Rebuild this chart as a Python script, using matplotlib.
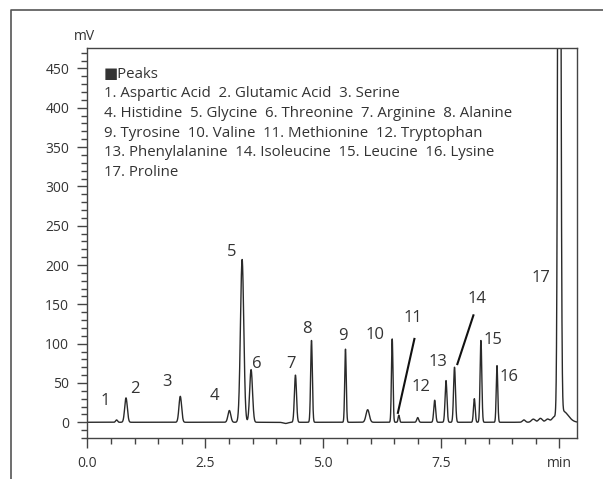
import numpy as np
import matplotlib
matplotlib.use("Agg")
import matplotlib.pyplot as plt
from matplotlib.ticker import MultipleLocator, FixedLocator, FixedFormatter
from matplotlib.lines import Line2D

plt.rcParams['font.family'] = ['Open Sans', 'DejaVu Sans']

# Peak table (retention time [min], height [mV], width sigma [min])
peak_times   = [0.62, 0.82, 1.97, 3.01, 3.28, 3.47, 4.20, 4.41, 4.75, 5.47, 5.94, 6.46, 6.60, 7.00, 7.36, 7.60, 7.78, 8.20, 8.34, 8.68, 9.25, 9.45, 9.60, 9.75, 9.88, 10.00, 10.08]
peak_heights = [3, 31, 33, 15, 207, 67, -1.5, 60, 104, 93, 16, 106, 9, 6, 28, 53, 70, 30, 104, 72, 3, 4, 5, 4, 4, 1500, 14]
peak_widths  = [0.02, 0.028, 0.028, 0.03, 0.035, 0.03, 0.05, 0.022, 0.018, 0.016, 0.035, 0.016, 0.015, 0.02, 0.02, 0.02, 0.02, 0.018, 0.018, 0.016, 0.03, 0.04, 0.04, 0.04, 0.04, 0.025, 0.11]

# Peak labels (number, label time, label height)
label_names = ['1', '2', '3', '4', '5', '6', '7', '8', '9', '10', '11', '12', '13', '14', '15', '16', '17']
label_x = [0.38, 1.00, 1.68, 2.69, 3.05, 3.60, 4.32, 4.66, 5.41, 6.10, 6.89, 7.06, 7.42, 8.25, 8.59, 8.93, 9.61]
label_y = [27, 42, 51, 34, 217, 74, 74, 119, 110, 111, 133, 45, 77, 157, 105, 58, 184]

# Leader lines (from, to)
leader_11 = [(6.93, 106), (6.58, 12)]
leader_14 = [(8.18, 136), (7.84, 74)]

legend_lines = [
    "\u25a0Peaks",
    "1. Aspartic Acid  2. Glutamic Acid  3. Serine",
    "4. Histidine  5. Glycine  6. Threonine  7. Arginine  8. Alanine",
    "9. Tyrosine  10. Valine  11. Methionine  12. Tryptophan",
    "13. Phenylalanine  14. Isoleucine  15. Leucine  16. Lysine",
    "17. Proline",
]

xticks = [0.0, 2.5, 5.0, 7.5, 10.0]
xticklabels = ['0.0', '2.5', '5.0', '7.5', 'min']
yticks = [0, 50, 100, 150, 200, 250, 300, 350, 400, 450]

t = np.linspace(0, 10.4, 6000)
signal = np.zeros_like(t)
for tr, h, w in zip(peak_times, peak_heights, peak_widths):
    signal += h * np.exp(-0.5 * ((t - tr) / w) ** 2)

W, H = 603, 479
fig = plt.figure(figsize=(W / 100, H / 100), dpi=100)
ax = fig.add_axes([87.3 / W, 1 - 438 / H, (577 - 87.3) / W, (438 - 48) / H])

ax.plot(t, signal, color='#2a2a2a', lw=1.0)
ax.set_xlim(0, 10.375)
ax.set_ylim(-20, 476)

ax.xaxis.set_major_locator(FixedLocator(xticks))
ax.xaxis.set_major_formatter(FixedFormatter(xticklabels))
ax.xaxis.set_minor_locator(MultipleLocator(0.5))
ax.yaxis.set_major_locator(FixedLocator(yticks))
ax.yaxis.set_minor_locator(MultipleLocator(10))

for s in ax.spines.values():
    s.set_color('#444444')
    s.set_linewidth(1.0)
ax.tick_params(which='major', direction='out', length=7, width=1, color='#444444',
               labelsize=10, labelcolor='#333333', pad=6)
ax.tick_params(which='minor', direction='out', length=4, width=1, color='#444444')

ax.text(-0.005, 1.01, 'mV', transform=ax.transAxes, fontsize=10, color='#333333',
        ha='center', va='bottom')

for name, x, y in zip(label_names, label_x, label_y):
    ax.text(x, y, name, fontsize=12, color='#333333', ha='center', va='center')

for ld in (leader_11, leader_14):
    ax.plot([ld[0][0], ld[1][0]], [ld[0][1], ld[1][1]], color='#111111', lw=1.5)

for i, line in enumerate(legend_lines):
    fig.text(104 / W, 1 - (74 + 19.7 * i) / H, line, fontsize=10.8, color='#333333',
             ha='left', va='center')

# outer frame (left and top)
fig.add_artist(Line2D([11 / W, 11 / W, 1.0], [0.0, 1 - 10 / H, 1 - 10 / H],
                      transform=fig.transFigure, color='#555555', lw=1.2))

fig.savefig('out.png', dpi=100)
